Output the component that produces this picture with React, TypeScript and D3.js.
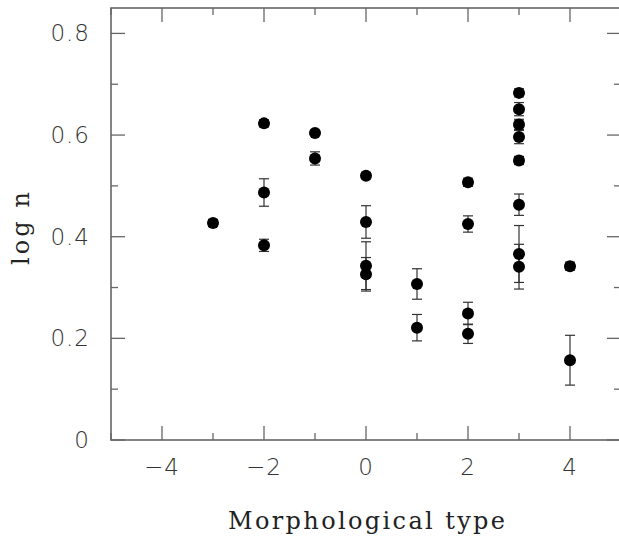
import * as d3 from 'd3';
import * as React from 'react';

const { useRef, useEffect } = React;

const width = 619;
const height = 539;
const margin = { top: 8, right: -2, bottom: 99, left: 111 };

// morphological type, log n, error
const types = [-3, -2, -2, -2, -1, -1, 0, 0, 0, 0, 1, 1, 2, 2, 2, 2, 3, 3, 3, 3, 3, 3, 3, 3, 4, 4];
const logN = [
  0.427, 0.623, 0.487, 0.383, 0.604, 0.554, 0.52, 0.429, 0.343, 0.326, 0.307, 0.221, 0.507,
  0.425, 0.249, 0.209, 0.683, 0.651, 0.621, 0.596, 0.55, 0.463, 0.366, 0.341, 0.342, 0.157,
];
const errs = [
  0.007, 0.007, 0.027, 0.012, 0.005, 0.013, 0.006, 0.032, 0.047, 0.033, 0.03, 0.026, 0.008,
  0.016, 0.022, 0.019, 0.008, 0.013, 0.01, 0.013, 0.008, 0.021, 0.056, 0.044, 0.008, 0.049,
];

const xTicks = [-4, -2, 0, 2, 4];
const yTicks = [0, 0.2, 0.4, 0.6, 0.8];

export default () => {
  const rootRef = useRef<SVGSVGElement>(null);

  useEffect(() => {
    const svgEl = rootRef.current;
    if (!svgEl) {
      return;
    }
    const svg = d3.select(svgEl);
    svg.selectAll('*').remove();

    const x = d3
      .scaleLinear()
      .domain([-5, 5])
      .range([margin.left, width - margin.right]);
    const y = d3
      .scaleLinear()
      .domain([0, 0.85])
      .range([height - margin.bottom, margin.top]);

    const axisColor = '#666';
    const labelFont = '"DejaVu Sans", sans-serif';
    const titleFont = '"DejaVu Serif", serif';

    // minor ticks every 1 on x, every 0.1 on y
    const xMinor = d3.range(-5, 5.01, 1);
    const yMinor = d3.range(0, 0.851, 0.1);

    const ticks = svg.append('g').attr('stroke', axisColor).attr('stroke-width', 1.3);

    xMinor.forEach(v => {
      const len = Math.abs(v % 2) < 1e-6 ? 14 : 7;
      ticks.append('line').attr('x1', x(v)).attr('x2', x(v)).attr('y1', y(0)).attr('y2', y(0) - len);
      ticks.append('line').attr('x1', x(v)).attr('x2', x(v)).attr('y1', y(0.85)).attr('y2', y(0.85) + len);
    });
    yMinor.forEach(v => {
      const major = Math.abs((v * 10) % 2) < 1e-6 || Math.abs((v * 10) % 2 - 2) < 1e-6;
      const len = major ? 14 : 7;
      ticks.append('line').attr('x1', x(-5)).attr('x2', x(-5) + len).attr('y1', y(v)).attr('y2', y(v));
      ticks.append('line').attr('x1', x(5)).attr('x2', x(5) - len).attr('y1', y(v)).attr('y2', y(v));
    });

    svg
      .append('rect')
      .attr('x', x(-5))
      .attr('y', y(0.85))
      .attr('width', x(5) - x(-5))
      .attr('height', y(0) - y(0.85))
      .attr('fill', 'none')
      .attr('stroke', axisColor)
      .attr('stroke-width', 1.6);

    svg
      .append('g')
      .selectAll('text')
      .data(xTicks)
      .join('text')
      .attr('x', d => x(d))
      .attr('y', y(0) + 35)
      .attr('text-anchor', 'middle')
      .attr('font-family', labelFont)
      .attr('font-weight', 200)
      .attr('font-size', 23)
      .attr('letter-spacing', 1)
      .attr('fill', '#333')
      .text(d => (d < 0 ? '\u2212' + Math.abs(d) : String(d)));

    svg
      .append('g')
      .selectAll('text')
      .data(yTicks)
      .join('text')
      .attr('x', 90)
      .attr('y', d => y(d) + 8)
      .attr('text-anchor', 'end')
      .attr('font-family', labelFont)
      .attr('font-weight', 200)
      .attr('font-size', 23)
      .attr('letter-spacing', 1)
      .attr('fill', '#333')
      .text(d => (d === 0 ? '0' : d.toFixed(1)));

    svg
      .append('text')
      .attr('x', 228)
      .attr('y', 529)
      .attr('textLength', 277)
      .attr('lengthAdjust', 'spacing')
      .attr('font-family', titleFont)
      .attr('font-size', 24)
      .attr('fill', '#222')
      .text('Morphological type');

    svg
      .append('text')
      .attr('transform', `translate(29,265) rotate(-90)`)
      .attr('textLength', 73)
      .attr('lengthAdjust', 'spacing')
      .attr('font-family', titleFont)
      .attr('font-size', 24)
      .attr('fill', '#222')
      .text('log n');

    const idx = d3.range(types.length);
    const bars = svg.append('g').attr('stroke', '#333').attr('stroke-width', 1.2);
    idx.forEach(i => {
      const cx = x(types[i]);
      const y1 = y(logN[i] + errs[i]);
      const y2 = y(logN[i] - errs[i]);
      bars.append('line').attr('x1', cx).attr('x2', cx).attr('y1', y1).attr('y2', y2);
      bars.append('line').attr('x1', cx - 5).attr('x2', cx + 5).attr('y1', y1).attr('y2', y1);
      bars.append('line').attr('x1', cx - 5).attr('x2', cx + 5).attr('y1', y2).attr('y2', y2);
    });

    svg
      .append('g')
      .selectAll('circle')
      .data(idx)
      .join('circle')
      .attr('cx', i => x(types[i]))
      .attr('cy', i => y(logN[i]))
      .attr('r', 6)
      .attr('fill', '#000');
  }, []);

  return (
    <svg
      ref={rootRef}
      width={width}
      height={height}
      style={{ position: 'absolute', left: 0, top: 0, background: '#fff' }}
    />
  );
};
